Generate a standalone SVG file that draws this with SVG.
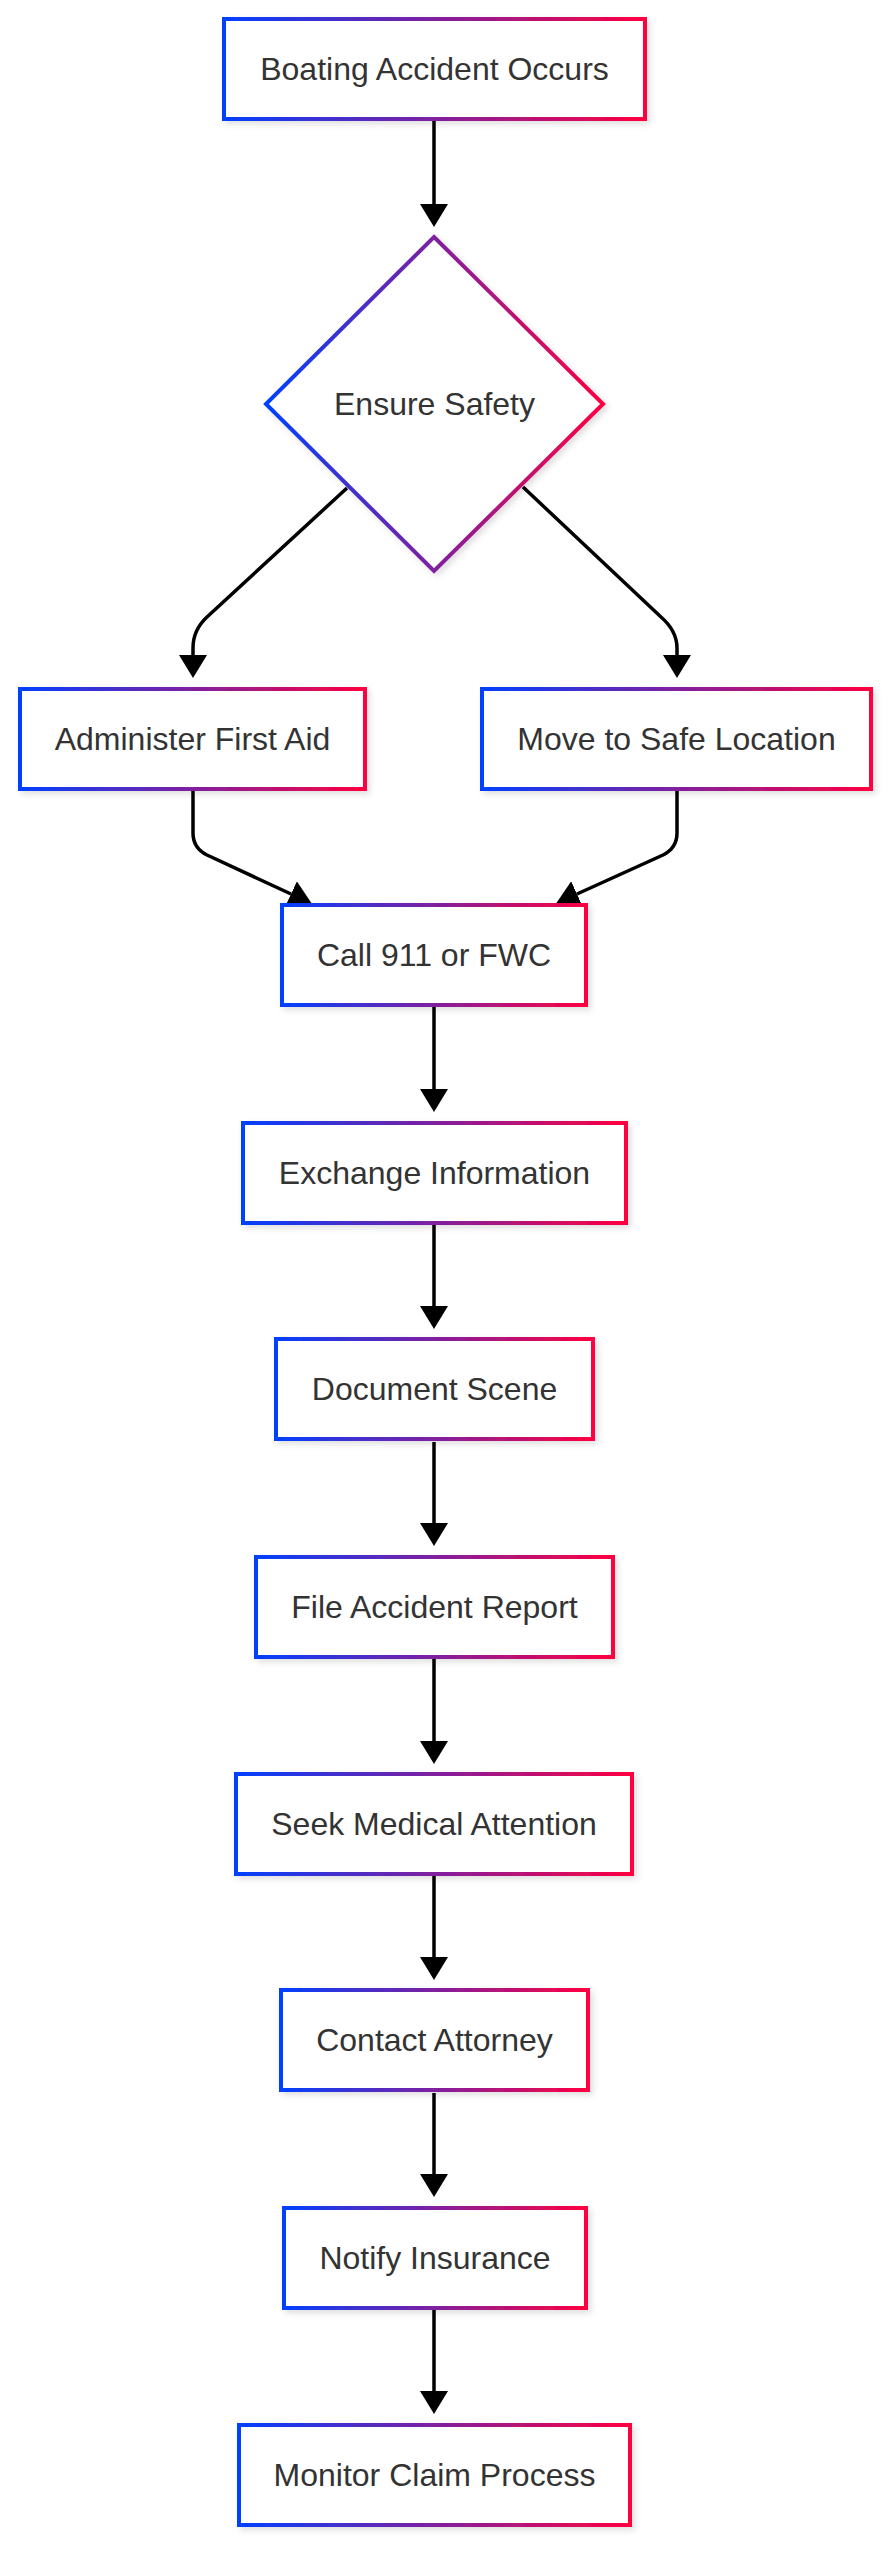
<svg xmlns="http://www.w3.org/2000/svg" width="896" height="2560" viewBox="0 0 896 2560">
<defs>
<linearGradient id="g" x1="0" y1="0" x2="1" y2="0">
<stop offset="0" stop-color="#0040ff"/>
<stop offset="1" stop-color="#ff0040"/>
</linearGradient>
<filter id="sh" x="-10%" y="-10%" width="130%" height="140%">
<feDropShadow dx="3" dy="3" stdDeviation="3" flood-color="#000" flood-opacity="0.13"/>
</filter>
<marker id="arr" markerUnits="userSpaceOnUse" markerWidth="23" markerHeight="28" viewBox="0 0 23 28" refX="0" refY="14" orient="auto">
<path d="M0,0 L23,14 L0,28 z" fill="#000"/>
</marker>
</defs>
<style>
.box{fill:#fff;stroke:url(#g);stroke-width:4;filter:url(#sh);}
.lbl{font-family:"Liberation Sans",Arial,sans-serif;font-size:32px;fill:#333;text-anchor:middle;}
.e{fill:none;stroke:#000;stroke-width:3.5;marker-end:url(#arr);}
</style>
<rect width="896" height="2560" fill="#fff"/>
<g id="connectors">
<path class="e" d="M434,121 L434,204"/>
<path class="e" d="M347,488 L207,617 Q193,630 193,648 L193,655"/>
<path class="e" d="M523,487 L661,617 Q677,631 677,648 L677,655"/>
<path class="e" d="M193,791 L193,833 Q193,848 207,855 L291,894"/>
<path class="e" d="M677,791 L677,833 Q677,848 663,855 L577,894"/>
<path class="e" d="M434,1007 L434,1089"/>
<path class="e" d="M434,1225 L434,1306"/>
<path class="e" d="M434,1442 L434,1523"/>
<path class="e" d="M434,1658 L434,1741"/>
<path class="e" d="M434,1876 L434,1957"/>
<path class="e" d="M434,2093 L434,2174"/>
<path class="e" d="M434,2309 L434,2391"/>
</g>
<g id="n1"><rect class="box" x="224" y="19" width="421" height="100"/><text class="lbl" x="434.5" y="80">Boating Accident Occurs</text></g>
<g id="n2"><polygon class="box" points="434,237 603,404 434,571 266,404"/><text class="lbl" x="434.5" y="415">Ensure Safety</text></g>
<g id="n3"><rect class="box" x="20" y="689" width="345" height="100"/><text class="lbl" x="192.5" y="750">Administer First Aid</text></g>
<g id="n4"><rect class="box" x="482" y="689" width="389" height="100"/><text class="lbl" x="676.5" y="750">Move to Safe Location</text></g>
<g id="n5"><rect class="box" x="282" y="905" width="304" height="100"/><text class="lbl" x="434" y="966">Call 911 or FWC</text></g>
<g id="n6"><rect class="box" x="243" y="1123" width="383" height="100"/><text class="lbl" x="434.5" y="1184">Exchange Information</text></g>
<g id="n7"><rect class="box" x="276" y="1339" width="317" height="100"/><text class="lbl" x="434.5" y="1400">Document Scene</text></g>
<g id="n8"><rect class="box" x="256" y="1557" width="357" height="100"/><text class="lbl" x="434.5" y="1618">File Accident Report</text></g>
<g id="n9"><rect class="box" x="236" y="1774" width="396" height="100"/><text class="lbl" x="434" y="1835">Seek Medical Attention</text></g>
<g id="n10"><rect class="box" x="281" y="1990" width="307" height="100"/><text class="lbl" x="434.5" y="2051">Contact Attorney</text></g>
<g id="n11"><rect class="box" x="284" y="2208" width="302" height="100"/><text class="lbl" x="435" y="2269">Notify Insurance</text></g>
<g id="n12"><rect class="box" x="239" y="2425" width="391" height="100"/><text class="lbl" x="434.5" y="2486">Monitor Claim Process</text></g>
</svg>
